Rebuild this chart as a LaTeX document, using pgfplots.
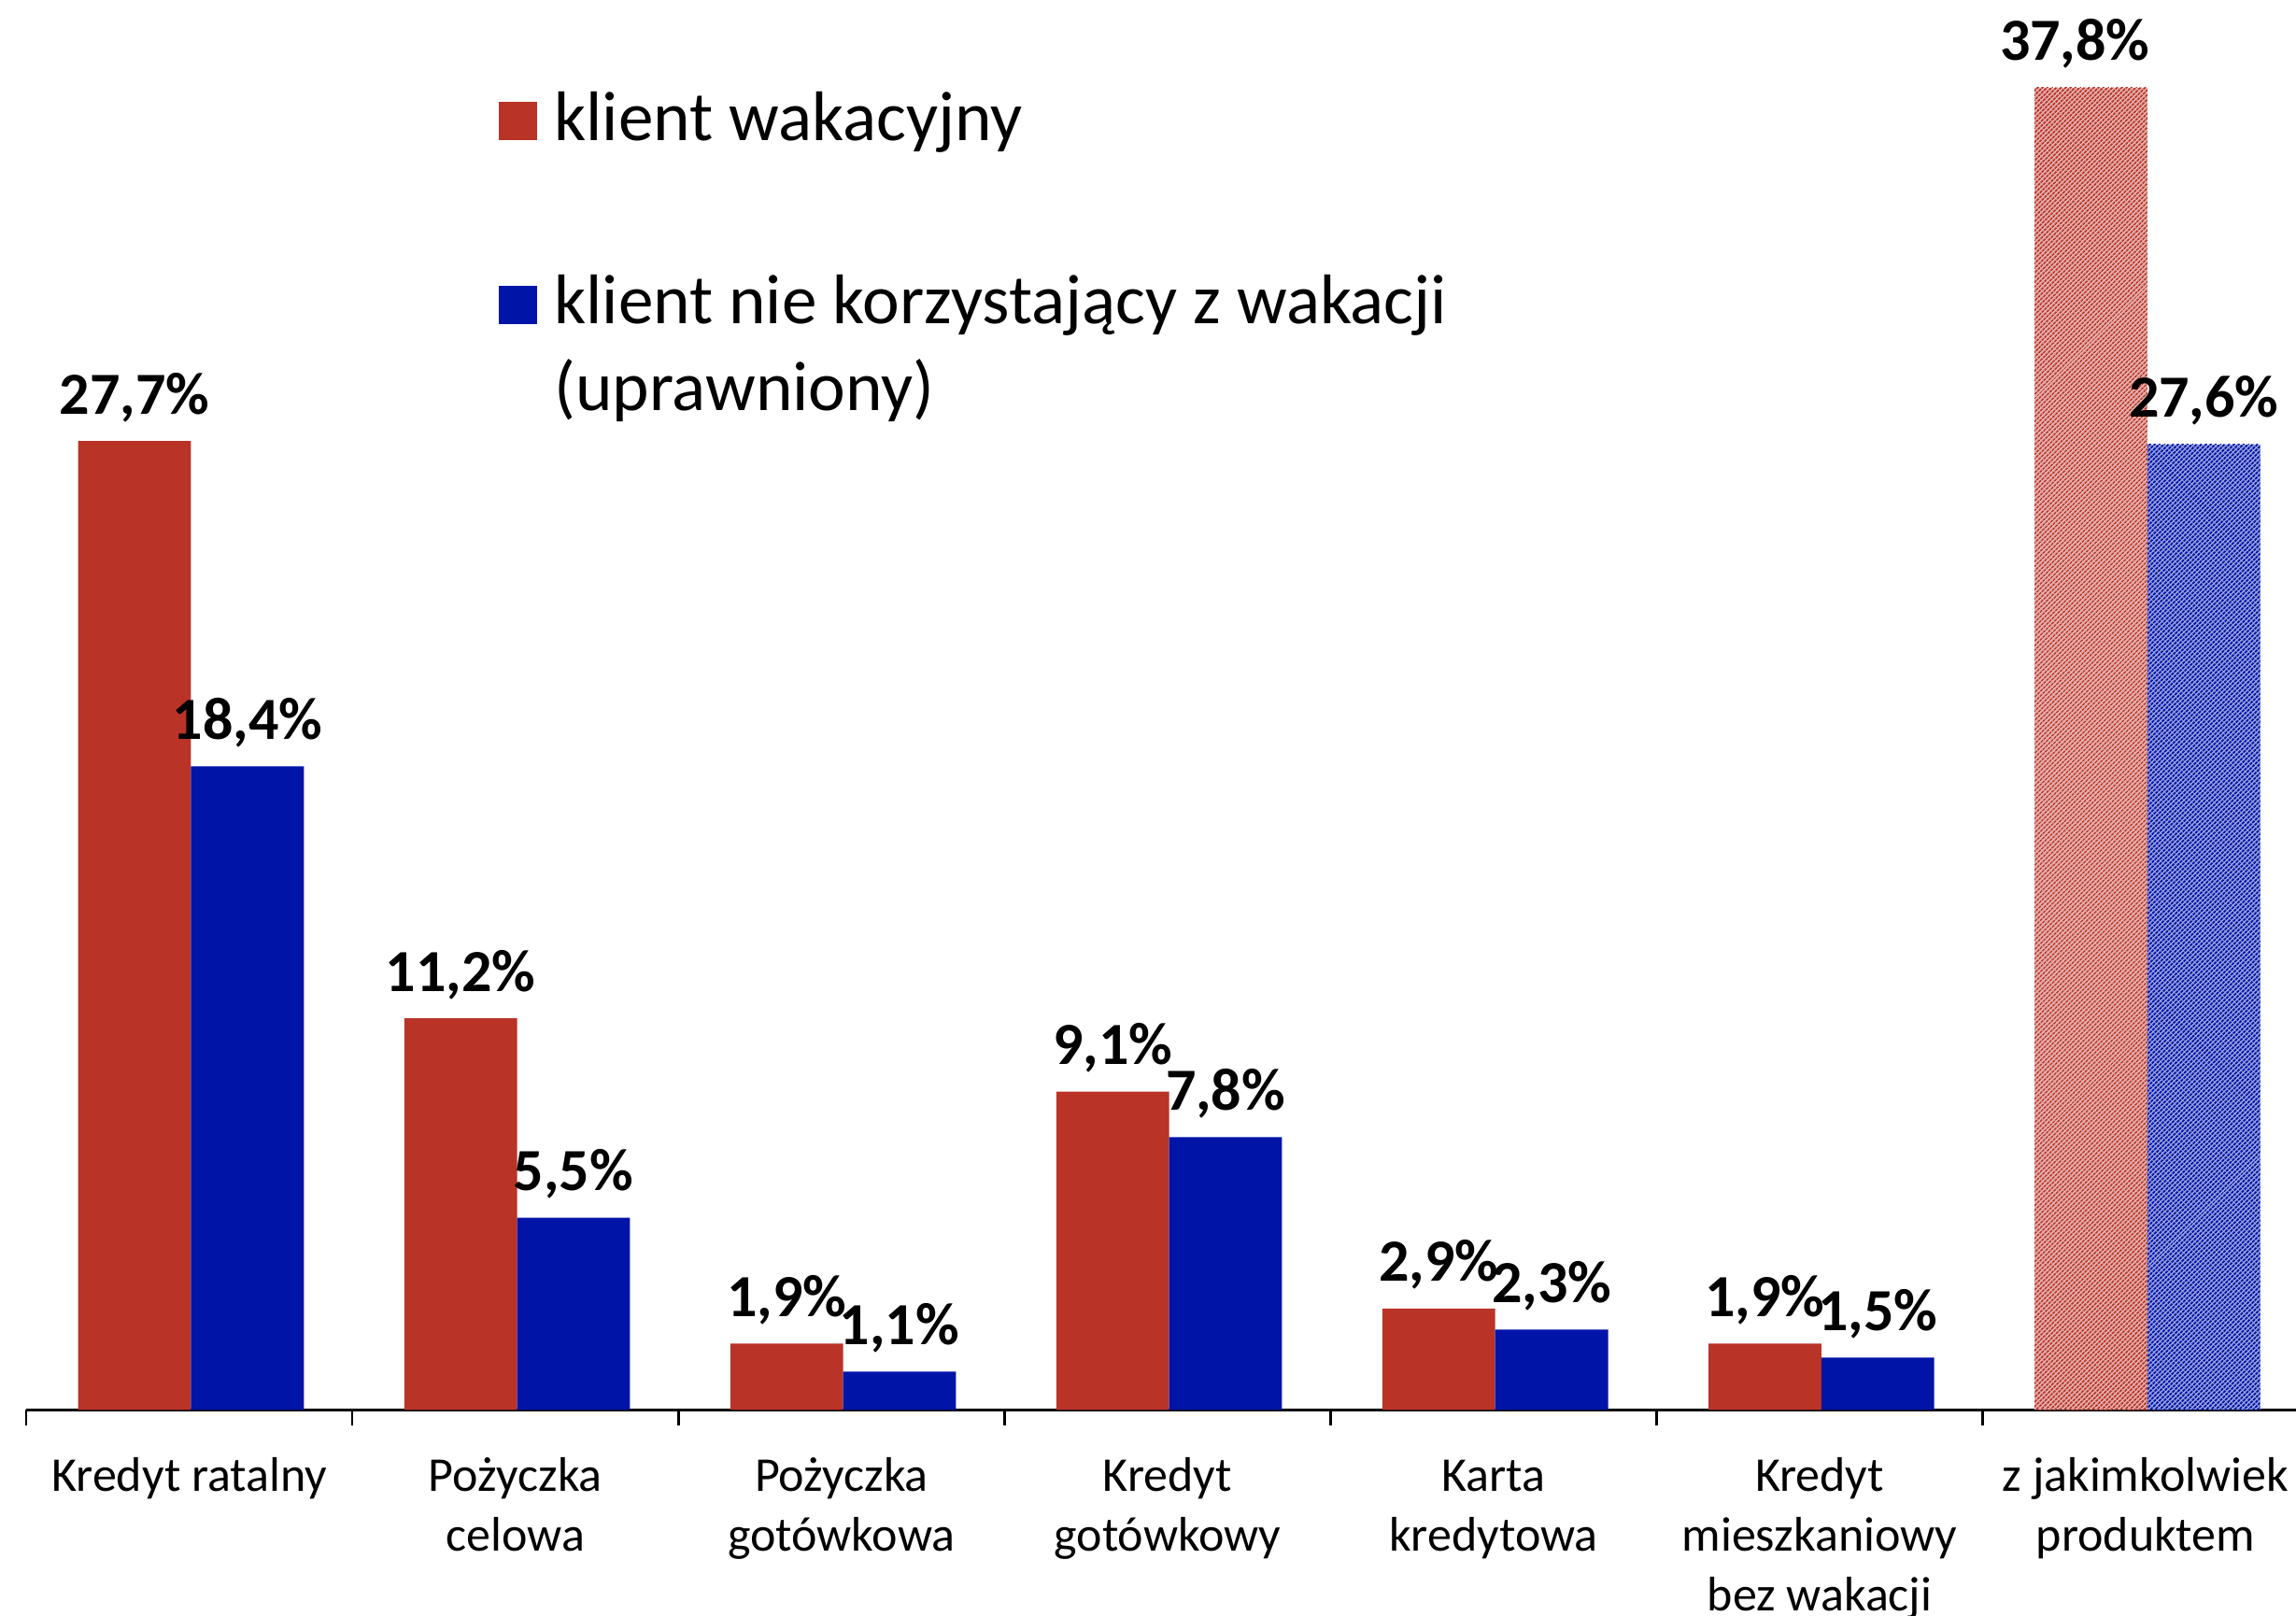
\documentclass[border=0pt]{standalone}
\usepackage{fontspec}
\setmainfont{Carlito}
\usepackage{pgfplots}
\usepackage{pgfplotstable}
\pgfplotsset{compat=1.18}
\usetikzlibrary{patterns.meta}
\definecolor{myred}{RGB}{185,51,39}
\definecolor{myblue}{RGB}{0,20,168}

\pgfplotstableread{
x red blue
0 27.7 18.4
1 11.2 5.5
2 1.9 1.1
3 9.1 7.8
4 2.9 2.3
5 1.9 1.5
}\maindata
\pgfplotstableread{
x red blue
6 37.8 27.6
}\totaldata

\begin{document}
\begin{tikzpicture}
\begin{axis}[
 at={(0,0)}, anchor=south west,
 scale only axis, width=607.5pt, height=377.4pt,
 xmin=-0.5, xmax=6.461, ymin=0, ymax=40.31,
 ybar, bar width=0.346,
 axis x line=bottom, axis y line=none,
 x axis line style={-, black, line width=0.6pt},
 xtick={0,...,6},
 xticklabels={\strut Kredyt ratalny, \strut Pożyczka\\celowa, \strut Pożyczka\\gotówkowa, \strut Kredyt\\gotówkowy, \strut Karta\\kredytowa, \strut Kredyt\\mieszkaniowy\\bez wakacji, \strut z jakimkolwiek\\produktem},
 major tick length=0pt,
 minor xtick={-0.5,0.5,...,5.5},
 minor x tick style={black, line width=0.6pt},
 minor tick length=4.2pt, tick align=outside,
 xticklabel style={font=\fontsize{13}{16}\selectfont, align=center, anchor=north, inner sep=0pt, yshift=-10.3pt},
 nodes near coords={\pgfmathprintnumber[fixed,fixed zerofill,precision=1,use comma,assume math mode=true]{\pgfplotspointmeta}\%},
 every node near coord/.append style={font=\bfseries\fontsize{16}{19}\selectfont, anchor=base, inner sep=0pt, yshift=7.25pt, text=black},
 legend cell align=left,
 legend style={draw=none, fill=none, at={(0.2078,0.9356)}, anchor=north west,
   font=\fontsize{18.8}{23.2}\selectfont, inner sep=0pt, row sep=34.65pt,
   nodes={inner sep=0pt}, cells={anchor=base west},
   /tikz/every odd column/.append style={column sep=4.6pt}},
 legend image code/.code={\fill[#1] (0pt,0pt) rectangle (10.3pt,10.3pt);},
 clip=false,
]
\addplot[fill=myred, draw=none, bar shift=-0.168] table[x=x,y=red]{\maindata};
\addlegendentry{klient wakacyjny}
\addplot[fill=myblue, draw=none, bar shift=0.178] table[x=x,y=blue]{\maindata};
\addlegendentry{\vtop{\hbox{klient nie korzystający z wakacji}\hbox{(uprawniony)}}}
\addplot[forget plot, draw=none, fill=myred!40!white, postaction={pattern={Lines[angle=45,distance=0.94pt,line width=0.5pt]}, pattern color=myred}, bar shift=-0.168, every node near coord/.append style={xshift=-4.3pt}] table[x=x,y=red]{\totaldata};
\addplot[forget plot, draw=none, fill=myblue!40!white, postaction={pattern={Lines[angle=45,distance=0.94pt,line width=0.55pt]}, pattern color=myblue}, bar shift=0.178] table[x=x,y=blue]{\totaldata};
\end{axis}
\pgfresetboundingbox
\path[use as bounding box] (-7.05pt,-55.1pt) rectangle (607.5pt,377.4pt);
\end{tikzpicture}
\end{document}
